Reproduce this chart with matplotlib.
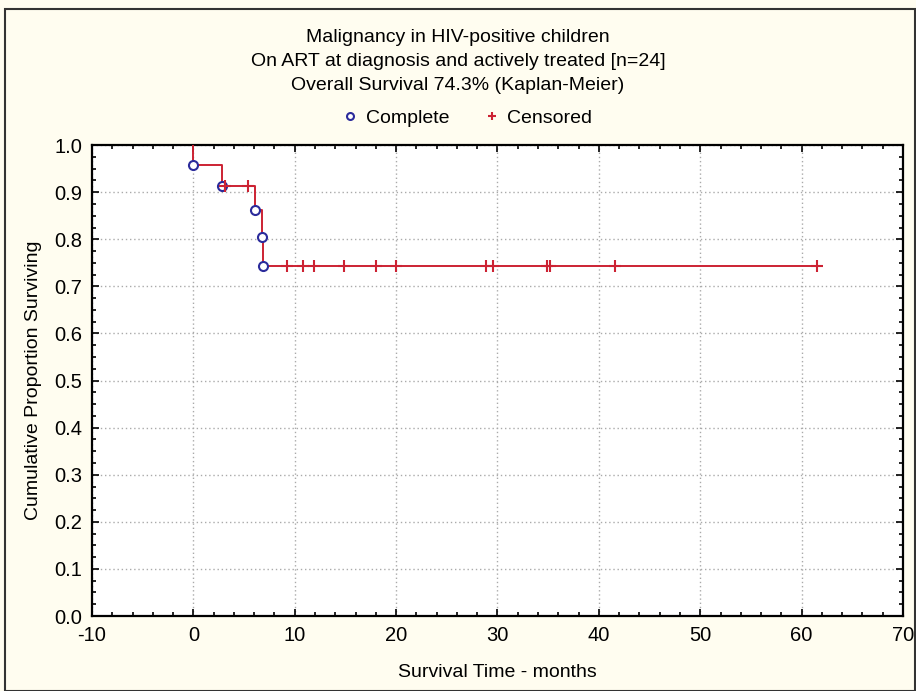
import matplotlib
matplotlib.use("Agg")
import matplotlib.pyplot as plt
from matplotlib.patches import Rectangle
from matplotlib.lines import Line2D
from matplotlib.ticker import MultipleLocator

# Kaplan-Meier step curve (time in months, proportion surviving)
step_times = [0.0, 0.0, 2.8, 6.1, 6.8, 6.9, 61.5]
step_surv = [1.0, 0.958, 0.913, 0.862, 0.804, 0.743, 0.743]

# complete (event) observations
complete_times = [0.0, 2.8, 6.1, 6.8, 6.9]
complete_surv = [0.958, 0.913, 0.862, 0.804, 0.743]

# censored observations
censored_times = [3.1, 5.4, 9.2, 10.8, 11.9, 14.9, 18.0, 20.0,
                  28.9, 29.6, 34.9, 35.2, 41.6, 61.5]
censored_surv = [0.913, 0.913, 0.743, 0.743, 0.743, 0.743, 0.743, 0.743,
                 0.743, 0.743, 0.743, 0.743, 0.743, 0.743]

title_lines = ["Malignancy in HIV-positive children",
               "On ART at diagnosis and actively treated [n=24]",
               "Overall Survival 74.3% (Kaplan-Meier)"]

plt.rcParams['font.family'] = ['Liberation Sans', 'DejaVu Sans']
plt.rcParams['axes.unicode_minus'] = False

bg = '#fffdf0'
red = '#cc2233'
blue = '#2b2b9b'
fs = 14

fig = plt.figure(figsize=(9.16, 6.91), dpi=100, facecolor=bg)
ax = fig.add_axes([0.1004, 0.1085, 0.8854, 0.6815])
ax.set_facecolor('white')

ax.step(step_times, step_surv, where='post', color=red, lw=1.4, zorder=3)
ax.plot(complete_times, complete_surv, 'o', ms=6.5, mfc='white', mec=blue,
        mew=1.5, ls='none', zorder=4)
ax.plot(censored_times, censored_surv, '+', ms=9, mec=red, mew=1.5,
        ls='none', zorder=5)

ax.set_xlim(-10, 70)
ax.set_ylim(0, 1.0)
ax.xaxis.set_major_locator(MultipleLocator(10))
ax.xaxis.set_minor_locator(MultipleLocator(2))
ax.yaxis.set_major_locator(MultipleLocator(0.1))
ax.yaxis.set_minor_locator(MultipleLocator(0.025))
ax.yaxis.set_major_formatter(matplotlib.ticker.FormatStrFormatter('%.1f'))

ax.tick_params(which='both', direction='in', top=True, right=True,
               labelsize=fs + 0.5, colors='black')
ax.tick_params(which='major', length=5, width=1.2, pad=7)
ax.tick_params(which='minor', length=3, width=1.2)
for s in ax.spines.values():
    s.set_linewidth(1.6)

ax.grid(True, which='major', ls=(0, (1, 2)), color='#aaaaaa', lw=1)
ax.set_axisbelow(True)

ax.set_xlabel('Survival Time - months', fontsize=fs, labelpad=14)
ax.set_ylabel('Cumulative Proportion Surviving', fontsize=fs, labelpad=9)

for i, line in enumerate(title_lines):
    fig.text(0.5, 1 - (38 + 24 * i) / 691, line, ha='center', va='center',
             fontsize=fs)

handles = [Line2D([], [], marker='o', ls='none', ms=5, mfc='white', mec=blue,
                  mew=1.5),
           Line2D([], [], marker='+', ls='none', ms=6, mec=red, mew=1.5)]
fig.legend(handles, ['Complete', 'Censored'], loc='center',
           bbox_to_anchor=(0.508, 1 - 118 / 691), ncol=2, frameon=False,
           fontsize=fs, handletextpad=0.2, columnspacing=1.6,
           handlelength=1.2)

fig.patches.append(Rectangle((5 / 916, 0), 1 - 6 / 916, 1 - 9 / 691,
                             transform=fig.transFigure, fill=False,
                             edgecolor='#333333', lw=1.5))

fig.savefig('out.png', dpi=100, facecolor=bg)
